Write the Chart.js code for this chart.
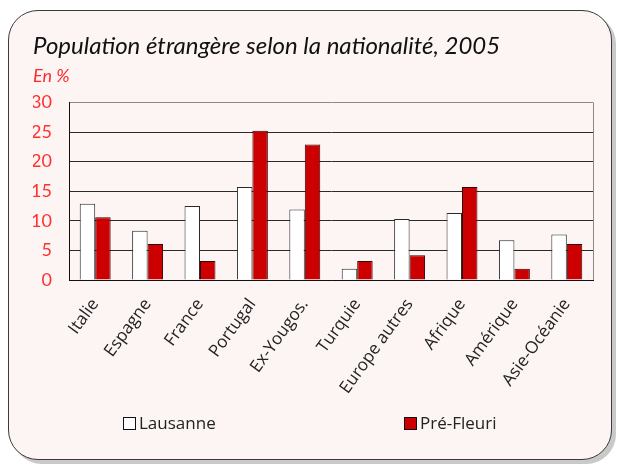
<!DOCTYPE html>
<html>
<head>
<meta charset="utf-8">
<script src="https://cdn.jsdelivr.net/npm/chart.js@4/dist/chart.umd.min.js"></script>
<style>
  html, body { margin: 0; padding: 0; background: #ffffff; }
  #wrap { position: relative; width: 617px; height: 464px; overflow: hidden; }
  #frame { position: absolute; left: 8px; top: 10px; width: 602px; height: 448px;
           border: 1px solid #3a3a3a; border-radius: 30px; background: #fdf4f4;
           box-shadow: 4px 4px 0 #c9c9c9; }
  #c { position: absolute; left: 0; top: 0; }
</style>
</head>
<body>
<div id="wrap">
  <div id="frame"></div>
  <canvas id="c" width="617" height="464"></canvas>
</div>
<script>
const categories = ["Italie", "Espagne", "France", "Portugal", "Ex-Yougos.", "Turquie", "Europe autres", "Afrique", "Amérique", "Asie-Océanie"];
const lausanne   = [12.9, 8.3, 12.5, 15.7, 11.9, 1.9, 10.3, 11.3, 6.7, 7.7];
const preFleuri  = [10.6, 6.1, 3.2, 25.2, 22.9, 3.2, 4.2, 15.7, 1.9, 6.1];
const seriesNames = ["Lausanne", "Pré-Fleuri"];
const yTicks = [0, 5, 10, 15, 20, 25, 30];

const FONT = "Lato, 'Open Sans', sans-serif";
const FONT2 = "'Open Sans', Lato, sans-serif";

const legendPlugin = {
  id: 'customLegend',
  afterDraw(chart) {
    const ctx = chart.ctx;
    const items = [
      { x: 123, ds: chart.data.datasets[0] },
      { x: 404, ds: chart.data.datasets[1] }
    ];
    ctx.save();
    ctx.font = "17px " + FONT2;
    ctx.textBaseline = 'middle';
    items.forEach(it => {
      const y = 424;
      ctx.fillStyle = it.ds.backgroundColor;
      ctx.fillRect(it.x + 0.5, y - 6.5, 12, 12);
      ctx.strokeStyle = '#111';
      ctx.lineWidth = 1;
      ctx.strokeRect(it.x + 0.5, y - 6.5, 12, 12);
      ctx.fillStyle = '#222';
      ctx.fillText(it.ds.label, it.x + 16, y);
    });
    ctx.restore();
  }
};

const borderPlugin = {
  id: 'rightBorder',
  afterDatasetsDraw(chart) {
    const a = chart.chartArea, ctx = chart.ctx;
    ctx.save();
    ctx.strokeStyle = '#8a8a8a';
    ctx.lineWidth = 1;
    ctx.beginPath();
    ctx.moveTo(Math.round(a.right) + 0.5, a.top);
    ctx.lineTo(Math.round(a.right) + 0.5, a.bottom);
    ctx.stroke();
    ctx.restore();
  }
};

new Chart(document.getElementById('c'), {
  type: 'bar',
  data: {
    labels: categories,
    datasets: [
      { label: seriesNames[0], data: lausanne, backgroundColor: '#ffffff', borderColor: '#2a2a2a', borderWidth: 1 },
      { label: seriesNames[1], data: preFleuri, backgroundColor: '#cc0000', borderColor: '#3a0000', borderWidth: 1 }
    ]
  },
  options: {
    responsive: false,
    animation: false,
    layout: { padding: { left: 33, right: 24, top: 0, bottom: 64 } },
    datasets: { bar: { categoryPercentage: 0.59, barPercentage: 1.0 } },
    plugins: {
      legend: { display: false },
      tooltip: { enabled: false },
      title: {
        display: true, align: 'start',
        text: 'Population étrangère selon la nationalité, 2005',
        color: '#111',
        font: { family: FONT, size: 24, style: 'italic', weight: 'normal' },
        padding: { top: 32, bottom: 0 }
      },
      subtitle: {
        display: true, align: 'start',
        text: 'En %',
        color: '#ff2a2a',
        font: { family: FONT, size: 18, style: 'italic', weight: 'normal' },
        padding: { top: 5, bottom: 15 }
      }
    },
    scales: {
      y: {
        min: 0, max: 30,
        afterBuildTicks(scale) { scale.ticks = yTicks.map(v => ({ value: v })); },
        afterFit(scale) { scale.width = 36; },
        ticks: { color: '#ff3030', padding: 17, font: { family: FONT, size: 18 } },
        grid: {
          drawTicks: false,
          color: ctx => (ctx.tick && ctx.tick.value === 30) ? '#8a8a8a' : '#2a2a2a',
          lineWidth: 1
        },
        border: { display: true, color: '#111', width: 1 }
      },
      x: {
        afterFit(scale) { scale.height = 120; scale.paddingLeft = 0; scale.paddingRight = 0; },
        ticks: { color: '#222', autoSkip: false, minRotation: 54, maxRotation: 54, padding: 15,
                 font: { family: FONT2, size: 17 } },
        grid: { display: false, drawTicks: false },
        border: { display: true, color: '#111', width: 1 }
      }
    }
  },
  plugins: [legendPlugin, borderPlugin]
});
</script>
</body>
</html>
